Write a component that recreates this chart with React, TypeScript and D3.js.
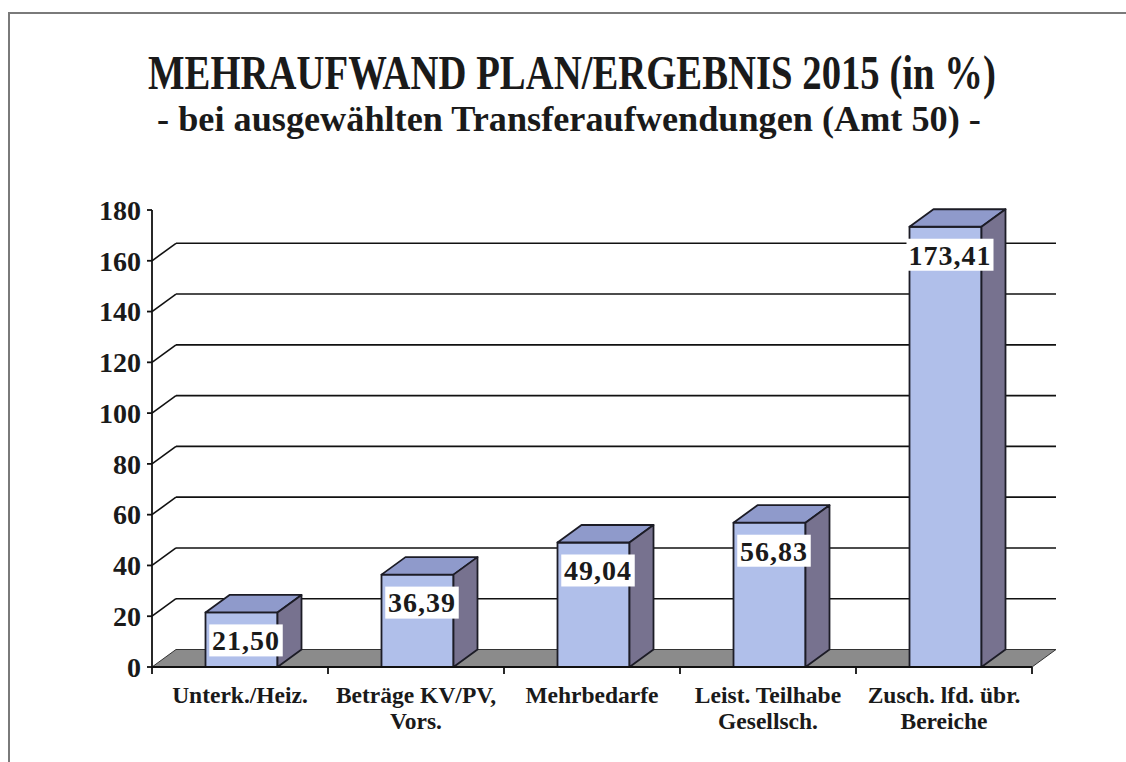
import React, { useLayoutEffect, useRef, useState } from "react";
import * as d3 from "d3";

const categories: string[][] = [
  ["Unterk./Heiz."],
  ["Beträge KV/PV,", "Vors."],
  ["Mehrbedarfe"],
  ["Leist. Teilhabe", "Gesellsch."],
  ["Zusch. lfd. übr.", "Bereiche"],
];
const values: number[] = [21.5, 36.39, 49.04, 56.83, 173.41];
const valueLabels: string[] = ["21,50", "36,39", "49,04", "56,83", "173,41"];
const yTicks: number[] = [0, 20, 40, 60, 80, 100, 120, 140, 160, 180];
const gridValues: number[] = [20, 40, 60, 80, 100, 120, 140, 160];
const title = "MEHRAUFWAND PLAN/ERGEBNIS 2015 (in %)";
const subtitle = "- bei ausgewählten Transferaufwendungen (Amt 50) -";

const W = 1126;
const H = 762;
const left = 152;
const right = 1032;
const y0 = 667;
const yTop = 210;
const DX = 24;
const DY = -17.5;
const BAR_W = 72;
const FONT = "'Liberation Serif', 'DejaVu Serif', serif";
const OUT = "#1c1c26";

function FitText(props: { x: number; y: number; width: number; size: number; text: string }) {
  const ref = useRef<SVGTextElement>(null);
  const [sx, setSx] = useState(1);
  useLayoutEffect(() => {
    if (ref.current) {
      const len = ref.current.getComputedTextLength();
      if (len > 0) setSx(props.width / len);
    }
  }, [props.text, props.width, props.size]);
  return (
    <g transform={`translate(${props.x},${props.y}) scale(${sx},1)`}>
      <text ref={ref} x={0} y={0} textAnchor="middle" fontSize={props.size} fontWeight="bold" fill="#1a1a1a">
        {props.text}
      </text>
    </g>
  );
}

export default function App() {
  const keys = categories.map((c, i) => String(i));
  const x = d3.scaleBand<string>().domain(keys).range([left, right]);
  const y = d3.scaleLinear().domain([0, 180]).range([y0, yTop]);
  const pts = (p: [number, number][]) => p.map((q) => q.join(",")).join(" ");

  return (
    <svg
      width={W}
      height={H}
      style={{ position: "absolute", left: 0, top: 0, background: "#fff" }}
      fontFamily={FONT}
    >
      <rect x={0} y={0} width={W} height={H} fill="#fff" />
      {/* frame */}
      <path d={`M9,${H + 5} L9,13 L${W + 5},13`} fill="none" stroke="#7a7a7a" strokeWidth={2} />

      {/* titles */}
      <FitText x={572} y={89} width={848} size={48} text={title} />
      <FitText x={569} y={131} width={824} size={36} text={subtitle} />

      {/* back-wall gridlines */}
      {gridValues.map((v) => (
        <g key={"g" + v}>
          <line x1={left} y1={y(v)} x2={left + DX} y2={y(v) + DY} stroke="#111" strokeWidth={1.6} />
          <line x1={left + DX} y1={y(v) + DY} x2={right + DX} y2={y(v) + DY} stroke="#111" strokeWidth={1.6} />
        </g>
      ))}

      {/* floor */}
      <polygon
        points={pts([
          [left, y0],
          [right, y0],
          [right + DX, y0 + DY],
          [left + DX, y0 + DY],
        ])}
        fill="#8b8b8b"
        stroke="#333"
        strokeWidth={1}
      />

      {/* bars */}
      {values.map((v, i) => {
        const cx = (x(keys[i]) as number) + x.bandwidth() / 2 + 1.5;
        const x0 = cx - BAR_W / 2;
        const x1 = cx + BAR_W / 2;
        const yt = y(v);
        return (
          <g key={"b" + i} stroke={OUT} strokeWidth={1.8} strokeLinejoin="round">
            <polygon points={pts([[x0, yt], [x1, yt], [x1, y0], [x0, y0]])} fill="#b0bfea" />
            <polygon points={pts([[x0, yt], [x0 + DX, yt + DY], [x1 + DX, yt + DY], [x1, yt]])} fill="#8f9acb" />
            <polygon points={pts([[x1, yt], [x1 + DX, yt + DY], [x1 + DX, y0 + DY], [x1, y0]])} fill="#77728f" />
          </g>
        );
      })}

      {/* value labels */}
      {values.map((v, i) => {
        const cx = (x(keys[i]) as number) + x.bandwidth() / 2 + 6;
        const cy = y(v) + 28;
        const w = valueLabels[i].length * 13.5 + 6;
        return (
          <g key={"l" + i}>
            <rect x={cx - w / 2} y={cy - 16} width={w} height={32} fill="#fff" />
            <text x={cx} y={cy} dy="0.35em" textAnchor="middle" fontSize={28} fontWeight="bold"
              fill="#1a1a1a" letterSpacing={1}>{valueLabels[i]}</text>
          </g>
        );
      })}

      {/* y axis */}
      <line x1={left} y1={yTop} x2={left} y2={y0} stroke="#111" strokeWidth={1.8} />
      {yTicks.map((t) => (
        <g key={"t" + t}>
          <line x1={left - 5} y1={y(t)} x2={left} y2={y(t)} stroke="#111" strokeWidth={1.8} />
          <text x={141} y={y(t)} dy="0.35em" textAnchor="end" fontSize={28} fontWeight="bold" fill="#1a1a1a">{t}</text>
        </g>
      ))}

      {/* x axis */}
      <line x1={left} y1={y0} x2={right} y2={y0} stroke="#111" strokeWidth={1.8} />
      {[...keys.map((k) => x(k) as number), right].map((tx, i) => (
        <line key={"xt" + i} x1={tx} y1={y0} x2={tx} y2={y0 + 7} stroke="#111" strokeWidth={1.8} />
      ))}
      {categories.map((lines, i) => {
        const cx = (x(keys[i]) as number) + x.bandwidth() / 2;
        return (
          <text key={"c" + i} x={cx} textAnchor="middle" fontSize={23.5} fontWeight="bold" fill="#1a1a1a">
            {lines.map((ln, j) => (
              <tspan key={j} x={cx} y={703 + j * 26}>{ln}</tspan>
            ))}
          </text>
        );
      })}
    </svg>
  );
}
